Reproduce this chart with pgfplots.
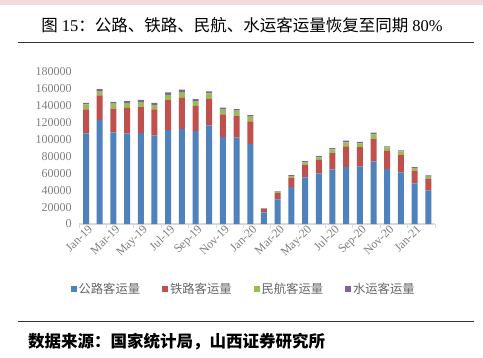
\documentclass[border=0pt]{standalone}
\usepackage{pgfplots}
\pgfplotsset{compat=1.18}
\usepackage{pgfplotstable}
\usepackage{fontspec}
\setmainfont{Liberation Serif}
\newfontfamily\cjk{Noto Sans CJK SC}
\definecolor{cBlue}{HTML}{4F81BD}
\definecolor{cRed}{HTML}{C0504D}
\definecolor{cGreen}{HTML}{9BBB59}
\definecolor{cPurple}{HTML}{8064A2}
\definecolor{labelgray}{HTML}{7F7F7F}
\definecolor{legendgray}{HTML}{666666}
\definecolor{axisgray}{HTML}{D9D9D9}
\definecolor{pinkband}{HTML}{F2DCDB}
\pgfplotstableread{
x road rail air water
0 107000 28400 5900 2000
1 122800 29100 5100 2400
2 108300 28000 5900 2000
3 107000 30300 5500 2400
4 107500 31100 5500 2400
5 104700 30700 5100 2800
6 111000 35400 6300 2800
7 112200 37000 6700 2800
8 109800 29900 5500 2400
9 116500 31500 6300 2400
10 102800 26800 5500 2400
11 102000 26000 5900 2000
12 94500 26800 5500 2000
13 13800 3900 600 600
14 29100 7500 1600 800
15 43700 11000 2000 1200
16 55100 14600 3100 1600
17 59800 16100 2800 1600
18 64600 19300 4300 1600
19 67300 24400 4700 2000
20 67700 23200 4300 2000
21 74000 26400 5500 2000
22 65000 21300 4300 1200
23 61000 20500 4300 1200
24 48000 15000 3100 1200
25 39400 13800 2800 1600
}\datatable
\begin{document}
\begin{tikzpicture}
\path[use as bounding box, fill=white] (0,0) rectangle (483pt,357pt);
\fill[pinkband] (0,352pt) rectangle (483pt,357pt);
\node at (242pt,332pt) {\fontsize{16.5}{18}\selectfont{\cjk 图} 15{\cjk ：公路、铁路、民航、水运客运量恢复至同期} 80\%};
\draw[line width=0.8pt, black!80] (18pt,314.3pt) -- (474pt,314.3pt);
\draw[line width=0.8pt, black!80] (18pt,36pt) -- (474pt,36pt);
\node[anchor=west, inner sep=0pt] at (28pt,15pt) {\fontsize{16.5}{18}\selectfont\cjk\bfseries 数据来源：国家统计局，山西证券研究所};
\begin{axis}[
  at={(86pt,133pt)}, anchor=origin,
  scale only axis, width=356pt, height=152.3pt,
  xmin=-0.5, xmax=25.5, ymin=0, ymax=180000,
  ybar stacked, bar width=6pt,
  axis x line*=bottom, axis y line*=left,
  y axis line style={draw=none},
  x axis line style={draw=axisgray, line width=1.2pt},
  scaled y ticks=false,
  ytick={0,20000,40000,60000,80000,100000,120000,140000,160000,180000},
  yticklabels={0,20000,40000,60000,80000,100000,120000,140000,160000,180000},
  ytick style={draw=none},
  yticklabel style={text=labelgray, font=\fontsize{12}{12}\selectfont, xshift=-4pt},
  xtick={0,2,...,24},
  xticklabels={Jan-19,Mar-19,May-19,Jul-19,Sep-19,Nov-19,Jan-20,Mar-20,May-20,Jul-20,Sep-20,Nov-20,Jan-21},
  major tick length=0pt,
  xticklabel style={rotate=45, anchor=north east, text=labelgray, font=\fontsize{12}{12}\selectfont, inner sep=1pt, xshift=2pt},
  extra x ticks={-0.5,1.5,3.5,5.5,7.5,9.5,11.5,13.5,15.5,17.5,19.5,21.5,23.5,25.5},
  extra x tick labels={,,,,,,,,,,,,,},
  extra x tick style={major tick length=4pt, tick align=outside, tick style={draw=axisgray, line width=1pt}},
  legend columns=4,
  legend style={at={(axis description cs:0.462,-0.427)}, anchor=center, draw=none, fill=none,
    font=\fontsize{12.3}{12}\selectfont\cjk, text=legendgray,
    /tikz/every even column/.append style={column sep=20pt}},
  legend image code/.code={\fill[#1] (0pt,-3pt) rectangle (6pt,3pt);},
  clip=false,
]
\addplot[fill=cBlue, draw=none] table[x=x, y=road] {\datatable};
\addplot[fill=cRed, draw=none] table[x=x, y=rail] {\datatable};
\addplot[fill=cGreen, draw=none] table[x=x, y=air] {\datatable};
\addplot[fill=cPurple, draw=none] table[x=x, y=water] {\datatable};
\legend{公路客运量,铁路客运量,民航客运量,水运客运量}
\end{axis}
\end{tikzpicture}
\end{document}
